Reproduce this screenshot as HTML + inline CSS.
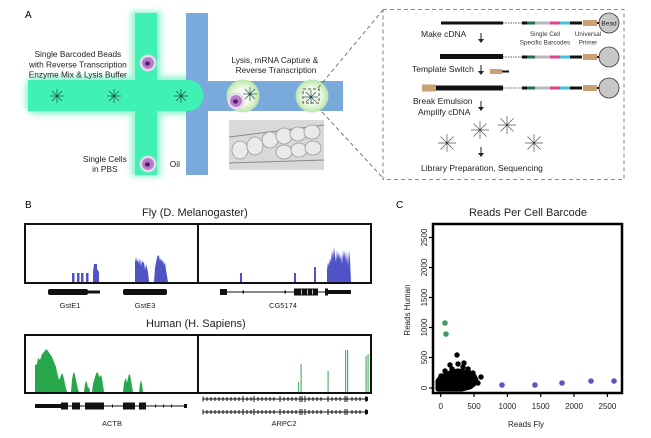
<!DOCTYPE html>
<html><head><meta charset="utf-8"><style>
html,body{margin:0;padding:0;background:#fff;}
svg{display:block;font-family:"Liberation Sans",sans-serif;}
</style></head><body>
<svg width="651" height="438" viewBox="0 0 651 438" xmlns="http://www.w3.org/2000/svg">
<defs>
<filter id="blur3" x="-50%" y="-50%" width="200%" height="200%"><feGaussianBlur stdDeviation="3"/></filter>
<filter id="blur1" x="-50%" y="-50%" width="200%" height="200%"><feGaussianBlur stdDeviation="1.2"/></filter>
<radialGradient id="drop" cx="50%" cy="50%" r="50%"><stop offset="0" stop-color="#ffffff"/><stop offset="0.55" stop-color="#eef8e4"/><stop offset="1" stop-color="#b8e6a8"/></radialGradient>
<radialGradient id="cellh" cx="50%" cy="50%" r="50%"><stop offset="0.6" stop-color="#f4eef8"/><stop offset="1" stop-color="#d9d2e6"/></radialGradient>
<g id="star" stroke="#1d4f4f" stroke-width="0.7">
<line x1="-7" y1="0" x2="7" y2="0"/><line x1="0" y1="-7" x2="0" y2="7"/>
<line x1="-5" y1="-5" x2="5" y2="5"/><line x1="-5" y1="5" x2="5" y2="-5"/>
<circle r="1.3" fill="#1d4f4f" stroke="none"/>
</g>
<g id="star2" stroke="#555" stroke-width="0.7">
<line x1="-9" y1="0" x2="9" y2="0"/><line x1="0" y1="-9" x2="0" y2="9"/>
<line x1="-6.5" y1="-6.5" x2="6.5" y2="6.5"/><line x1="-6.5" y1="6.5" x2="6.5" y2="-6.5"/>
<circle r="1.2" fill="#444" stroke="none"/>
</g>
<g id="cell">
<circle r="8.5" fill="url(#cellh)"/>
<circle r="6" fill="#b77cc8"/>
<ellipse cx="-0.5" cy="0.5" rx="2.6" ry="2.2" fill="#5b1d6e"/>
</g>
</defs>

<!-- ============ PANEL A ============ -->
<text x="25" y="18" font-size="10">A</text>

<!-- glows -->
<rect x="131" y="11" width="30" height="166" fill="#9af5d2" filter="url(#blur3)"/>
<rect x="25" y="76" width="180" height="39" rx="12" fill="#9af5d2" filter="url(#blur3)"/>
<!-- blue channels -->
<rect x="186" y="13" width="22" height="162" fill="#7aa9dc"/>
<rect x="186" y="81" width="157" height="30" fill="#7aa9dc"/>
<!-- green channels -->
<rect x="135" y="13" width="22" height="162" fill="#3ff2b3"/>
<path d="M28,80 H188 A15.5,15.5 0 0 1 188,111 H28 Z" fill="#3ff2b3"/>

<use href="#star" x="57" y="96"/>
<use href="#star" x="114" y="96"/>
<use href="#star" x="181" y="96"/>
<use href="#cell" x="148" y="63"/>
<use href="#cell" x="148" y="164"/>

<!-- droplets -->
<circle cx="243" cy="96" r="16.5" fill="url(#drop)"/>
<use href="#cell" x="236" y="101"/>
<use href="#star" x="250" y="94"/>
<circle cx="312" cy="96" r="16.5" fill="url(#drop)"/>
<use href="#star" x="311" y="97"/>
<rect x="303" y="89" width="16" height="14" fill="none" stroke="#222" stroke-width="0.8" stroke-dasharray="3,2"/>

<!-- micrograph -->
<rect x="229" y="120" width="95" height="50" fill="#d9d9d9"/>
<path d="M229,137 L324,125" stroke="#8a8a8a" stroke-width="1" fill="none"/>
<path d="M229,163 L324,160" stroke="#8a8a8a" stroke-width="1" fill="none"/>
<g fill="#eaeaea" stroke="#9a9a9a" stroke-width="0.8">
<ellipse cx="240" cy="150" rx="8" ry="9"/>
<ellipse cx="255" cy="146" rx="8" ry="9"/>
<ellipse cx="270" cy="140" rx="8" ry="8"/>
<ellipse cx="284" cy="136" rx="8" ry="8"/>
<ellipse cx="298" cy="134" rx="8" ry="7"/>
<ellipse cx="312" cy="132" rx="8" ry="7"/>
<ellipse cx="284" cy="152" rx="8" ry="7"/>
<ellipse cx="299" cy="150" rx="8" ry="7"/>
<ellipse cx="313" cy="148" rx="8" ry="7"/>
</g>

<text font-size="8.3" text-anchor="middle" fill="#222">
<tspan x="79" y="57">Single Barcoded Beads</tspan>
<tspan x="79" y="67.5">with Reverse Transcription</tspan>
<tspan x="79" y="77.5">Enzyme Mix &amp; Lysis Buffer</tspan>
<tspan x="106" y="162">Single Cells</tspan>
<tspan x="106" y="172">in PBS</tspan>
<tspan x="176" y="167">Oil</tspan>
<tspan x="276" y="63">Lysis, mRNA Capture &amp;</tspan>
<tspan x="276" y="73">Reverse Transcription</tspan>
</text>

<!-- dashed callout -->
<line x1="318" y1="88" x2="383" y2="10" stroke="#555" stroke-width="0.8" stroke-dasharray="4,3"/>
<line x1="322" y1="112" x2="383" y2="178" stroke="#555" stroke-width="0.8" stroke-dasharray="4,3"/>
<rect x="383" y="9.5" width="241" height="170" fill="#fff" stroke="#666" stroke-width="0.8" stroke-dasharray="4,3"/>

<!-- DNA rows -->
<g>
<!-- row 1 -->
<rect x="441" y="21.5" width="62" height="3" fill="#111"/>
<line x1="503" y1="23" x2="522" y2="23" stroke="#999" stroke-width="1.5" stroke-dasharray="1.5,1"/>
<rect x="522" y="21.5" width="5" height="3" fill="#111"/>
<rect x="527" y="21.5" width="8" height="3" fill="#1f6e5e"/>
<rect x="535" y="21.5" width="15" height="3" fill="#b8b8b8"/>
<rect x="550" y="21.5" width="10" height="3" fill="#e0418b"/>
<rect x="560" y="21.5" width="10" height="3" fill="#3fc3d8"/>
<rect x="570" y="21.5" width="12" height="3" fill="#111"/>
<rect x="583" y="20" width="14" height="6" fill="#c9a070"/>
<rect x="597" y="22" width="3" height="2" fill="#111"/>
<circle cx="609" cy="23" r="10" fill="#c8c8c8" stroke="#333" stroke-width="0.8"/>
<text x="609" y="25.5" font-size="6.5" text-anchor="middle" fill="#222">Bead</text>
<!-- row 2 -->
<rect x="440" y="54" width="63" height="5" fill="#111"/>
<line x1="503" y1="57" x2="522" y2="57" stroke="#999" stroke-width="1.5" stroke-dasharray="1.5,1"/>
<rect x="522" y="55.5" width="5" height="3" fill="#111"/>
<rect x="527" y="55.5" width="8" height="3" fill="#1f6e5e"/>
<rect x="535" y="55.5" width="15" height="3" fill="#b8b8b8"/>
<rect x="550" y="55.5" width="10" height="3" fill="#e0418b"/>
<rect x="560" y="55.5" width="10" height="3" fill="#3fc3d8"/>
<rect x="570" y="55.5" width="12" height="3" fill="#111"/>
<rect x="583" y="54" width="14" height="6" fill="#c9a070"/>
<rect x="597" y="56" width="3" height="2" fill="#111"/>
<circle cx="609" cy="57" r="10" fill="#c8c8c8" stroke="#333" stroke-width="0.8"/>
<!-- small piece -->
<rect x="490" y="69" width="12" height="5" fill="#c9a070"/>
<rect x="502" y="70.5" width="7" height="2" fill="#111"/>
<!-- row 3 -->
<rect x="422" y="84.5" width="14" height="7" fill="#c9a070"/>
<rect x="436" y="85.5" width="67" height="5" fill="#111"/>
<line x1="503" y1="88" x2="522" y2="88" stroke="#999" stroke-width="1.5" stroke-dasharray="1.5,1"/>
<rect x="522" y="86.5" width="5" height="3" fill="#111"/>
<rect x="527" y="86.5" width="8" height="3" fill="#1f6e5e"/>
<rect x="535" y="86.5" width="15" height="3" fill="#b8b8b8"/>
<rect x="550" y="86.5" width="10" height="3" fill="#e0418b"/>
<rect x="560" y="86.5" width="10" height="3" fill="#3fc3d8"/>
<rect x="570" y="86.5" width="12" height="3" fill="#111"/>
<rect x="583" y="85" width="14" height="6" fill="#c9a070"/>
<rect x="597" y="87" width="3" height="2" fill="#111"/>
<circle cx="609" cy="88" r="10" fill="#c8c8c8" stroke="#333" stroke-width="0.8"/>
</g>

<!-- arrows -->
<g stroke="#222" stroke-width="1" fill="#222">
<line x1="481" y1="33" x2="481" y2="40"/><path d="M478,39 L484,39 L481,43 Z" stroke="none"/>
<line x1="481" y1="65" x2="481" y2="72"/><path d="M478,71 L484,71 L481,75 Z" stroke="none"/>
<line x1="481" y1="101" x2="481" y2="108"/><path d="M478,107 L484,107 L481,111 Z" stroke="none"/>
<line x1="481" y1="147" x2="481" y2="154"/><path d="M478,153 L484,153 L481,157 Z" stroke="none"/>
</g>
<use href="#star2" x="480" y="130"/>
<use href="#star2" x="507" y="125"/>
<use href="#star2" x="447" y="143"/>
<use href="#star2" x="534" y="143"/>

<g font-size="8.5" fill="#222">
<text x="421" y="37">Make cDNA</text>
<text x="412" y="72">Template Switch</text>
<text x="413" y="104">Break Emulsion</text>
<text x="418" y="115">Amplify cDNA</text>
<text x="421" y="171">Library Preparation, Sequencing</text>
</g>
<g font-size="6.3" fill="#333" text-anchor="middle">
<text x="545" y="36">Single Cell</text>
<text x="545" y="44.5">Specific Barcodes</text>
<text x="588" y="36">Universal</text>
<text x="588" y="44.5">Primer</text>
</g>

<!-- ============ PANEL B ============ -->
<text x="25" y="208" font-size="10">B</text>
<text x="142" y="216" font-size="11" fill="#222">Fly (D.  Melanogaster)</text>

<!-- fly bars -->
<g fill="#5053c6">
<rect x="72" y="273" width="2.5" height="9"/>
<rect x="77" y="273" width="2.5" height="9"/>
<rect x="81" y="273" width="2.5" height="9"/>
<rect x="86" y="273" width="2.5" height="9"/>
<polygon points="93,282 93,272 94,264 97,264 97,269 99,272 99,282"/>
<polygon points="135,282 135,262 136,257 137,262 138,259 139,264 140,258 141,266 142,260 143,263 144,262 145,270 146,264 147,268 148,272 149,282"/>
<polygon points="154,282 155,268 156,262 157,258 158,255 159,256 160,261 161,258 162,262 163,260 164,265 165,262 166,270 167,276 168,282"/>
<rect x="240" y="273" width="2" height="9"/>
<rect x="294" y="273" width="2" height="9"/>
<rect x="314" y="267" width="2" height="15"/>
<polygon points="327,282 327,270 328,262 329,266 330,258 331,262 332,250 333,258 334,247 335,255 336,262 337,250 338,258 339,252 340,260 341,254 342,264 343,250 344,258 345,250 346,262 347,252 348,266 349,250 350,260 351,282"/>
</g>
<rect x="25" y="224" width="346" height="59" fill="none" stroke="#111" stroke-width="2"/>
<line x1="198" y1="224" x2="198" y2="283" stroke="#111" stroke-width="2"/>

<!-- fly gene models -->
<g fill="#111">
<rect x="48" y="289" width="40" height="6" rx="2"/>
<rect x="88" y="290.5" width="12" height="3"/>
<rect x="123" y="289" width="44" height="6" rx="2"/>
<rect x="220" y="289" width="7" height="6"/>
<rect x="227" y="291.5" width="67" height="1"/>
<rect x="242.5" y="290.5" width="1.5" height="3"/>
<rect x="284.5" y="290.5" width="1.5" height="3"/>
<rect x="294" y="288.5" width="24" height="7"/>
<rect x="318" y="291.5" width="9" height="1"/>
<rect x="325" y="288.5" width="3" height="7"/>
<rect x="328" y="290" width="23" height="4"/>
</g>
<g fill="#bbb"><rect x="301" y="289.5" width="1" height="5"/><rect x="307" y="289.5" width="1" height="5"/><rect x="312" y="289.5" width="1" height="5"/></g>
<g font-size="7.5" text-anchor="middle" fill="#222">
<text x="70" y="308">GstE1</text>
<text x="145" y="308">GstE3</text>
<text x="283" y="308">CG5174</text>
</g>

<text x="146" y="327" font-size="11" fill="#222">Human (H. Sapiens)</text>
<!-- human areas -->
<g fill="#27a64c">
<polygon points="35,392 35,365 37,364 38,358 40,360 42,354 44,352 46,349 48,351 50,354 52,357 54,362 56,367 57,372 58,376 59,380 60,378 62,373 63,375 64,379 65,384 66,388 67,392"/>
<polygon points="71,392 72,380 73,374 74,372 75,375 76,380 77,385 78,389 79,392"/>
<polygon points="84,392 85,384 86,381 87,383 88,388 89,387 90,392"/>
<polygon points="92,392 93,384 95,377 96,374 97,372 98,373 99,376 100,377 101,375 102,378 103,385 104,392"/>
<polygon points="123,392 124,383 125,380 126,378 127,383 128,378 129,374 130,375 131,380 132,386 133,392"/>
<polygon points="139,392 140,384 141,380 142,384 143,392"/>
</g>
<g fill="#55b070">
<rect x="298" y="382" width="1" height="10"/>
<rect x="300.5" y="364" width="1.2" height="28"/>
<rect x="327.5" y="371" width="1.2" height="21"/>
<rect x="345" y="350" width="1.2" height="42"/>
<rect x="347" y="350" width="1.2" height="42"/>
<rect x="365.5" y="356" width="1.2" height="36"/>
<rect x="367.5" y="354" width="1.2" height="38"/>
</g>
<rect x="25" y="335" width="346" height="58" fill="none" stroke="#111" stroke-width="2"/>
<line x1="198" y1="335" x2="198" y2="393" stroke="#111" stroke-width="2"/>

<!-- ACTB model -->
<g fill="#111">
<rect x="35" y="404" width="27" height="4"/>
<rect x="61" y="402.5" width="7" height="7"/>
<rect x="68" y="405.5" width="4" height="1"/>
<rect x="72" y="402.5" width="8" height="7"/>
<rect x="80" y="405.5" width="5" height="1"/>
<rect x="85" y="402.5" width="19" height="7"/>
<rect x="104" y="405.5" width="19" height="1"/>
<rect x="123" y="402.5" width="12" height="7"/>
<rect x="135" y="405.5" width="4" height="1"/>
<rect x="139" y="402.5" width="7" height="7"/>
<rect x="146" y="405.5" width="39" height="1"/>
<rect x="184" y="404" width="3" height="4"/>
<rect x="112" y="404.5" width="1" height="3"/><rect x="155" y="404.5" width="1" height="3"/><rect x="163" y="404.5" width="1" height="3"/><rect x="171" y="404.5" width="1" height="3"/>
</g>
<!-- ARPC2 models -->
<g stroke="#111" stroke-width="1">
<line x1="203" y1="399" x2="367" y2="399"/>
<line x1="203" y1="412" x2="367" y2="412"/>
<path d="M207,397 V401 M211,397 V401 M215,397 V401 M219,397 V401 M223,397 V401 M227,397 V401 M231,397 V401 M235,397 V401 M239,397 V401 M243,396 V402 M247,397 V401 M251,397 V401 M254,396 V402 M258,397 V401 M262,397 V401 M266,397 V401 M270,397 V401 M274,397 V401 M280,396 V402 M284,397 V401 M288,397 V401 M292,397 V401 M296,397 V401 M300,396 V402 M302,396 V402 M305,396 V402 M309,397 V401 M313,397 V401 M317,397 V401 M321,397 V401 M328,396 V402 M332,397 V401 M336,397 V401 M340,397 V401 M345,396 V402 M347,396 V402 M352,397 V401 M356,397 V401 M360,397 V401 M366,396 V402"/>
<path d="M207,410 V414 M211,410 V414 M215,410 V414 M219,410 V414 M223,410 V414 M227,410 V414 M231,410 V414 M235,410 V414 M239,410 V414 M243,409 V415 M247,410 V414 M251,410 V414 M254,409 V415 M258,410 V414 M262,410 V414 M266,410 V414 M270,410 V414 M274,410 V414 M280,409 V415 M284,410 V414 M288,410 V414 M292,410 V414 M296,410 V414 M300,409 V415 M302,409 V415 M305,409 V415 M309,410 V414 M313,410 V414 M317,410 V414 M321,410 V414 M328,409 V415 M332,410 V414 M336,410 V414 M340,410 V414 M345,409 V415 M347,409 V415 M352,410 V414 M356,410 V414 M360,410 V414 M366,409 V415"/>
<path d="M203,396.5 V401.5 M203,409.5 V414.5"/>
</g>
<rect x="365" y="397" width="3" height="4" fill="#111"/>
<rect x="365" y="410" width="3" height="4" fill="#111"/>
<g font-size="7.5" text-anchor="middle" fill="#222">
<text x="112" y="426">ACTB</text>
<text x="284" y="426">ARPC2</text>
</g>

<!-- ============ PANEL C ============ -->
<text x="396" y="208" font-size="10">C</text>
<text x="528" y="216" font-size="11" text-anchor="middle" fill="#222">Reads Per Cell Barcode</text>

<!-- cluster -->
<path d="M438,389 L438,381 L441,377 L446,375 L452,372 L458,371 L465,372 L470,373 L474,376 L476,380 L474,384 L470,387 L462,389 Z" fill="#000" stroke="#000" stroke-width="5" stroke-linejoin="round"/>
<g fill="#000">
<circle cx="457" cy="355" r="2.7"/><circle cx="450" cy="365" r="2.7"/><circle cx="458" cy="364" r="2.7"/>
<circle cx="464" cy="363" r="2.7"/><circle cx="473" cy="373" r="2.7"/><circle cx="481" cy="377" r="2.7"/>
<circle cx="478" cy="383" r="2.7"/><circle cx="445" cy="371" r="2.7"/><circle cx="468" cy="369" r="2.7"/>
<circle cx="441" cy="376" r="2.7"/><circle cx="463" cy="367" r="2.7"/><circle cx="452" cy="369" r="2.7"/>
</g>
<g fill="#3f9a62"><circle cx="445" cy="323" r="2.8"/><circle cx="446" cy="334" r="2.8"/></g>
<g fill="#5a56c2">
<circle cx="502" cy="385" r="2.8"/><circle cx="535" cy="385" r="2.8"/><circle cx="562" cy="383" r="2.8"/>
<circle cx="591" cy="381" r="2.8"/><circle cx="614" cy="381" r="2.8"/>
</g>
<rect x="433" y="224" width="189" height="169" fill="none" stroke="#000" stroke-width="2.5"/>
<g stroke="#000" stroke-width="1.2">
<line x1="429" y1="237.5" x2="433" y2="237.5"/><line x1="429" y1="267.5" x2="433" y2="267.5"/>
<line x1="429" y1="297.5" x2="433" y2="297.5"/><line x1="429" y1="327.5" x2="433" y2="327.5"/>
<line x1="429" y1="357.5" x2="433" y2="357.5"/><line x1="429" y1="388" x2="433" y2="388"/>
<line x1="440.7" y1="393" x2="440.7" y2="397"/><line x1="474" y1="393" x2="474" y2="397"/>
<line x1="507.4" y1="393" x2="507.4" y2="397"/><line x1="540.7" y1="393" x2="540.7" y2="397"/>
<line x1="574" y1="393" x2="574" y2="397"/><line x1="607.4" y1="393" x2="607.4" y2="397"/>
</g>
<g font-size="8" text-anchor="middle" fill="#222">
<text transform="translate(427,237.5) rotate(-90)">2500</text>
<text transform="translate(427,267.5) rotate(-90)">2000</text>
<text transform="translate(427,297.5) rotate(-90)">1500</text>
<text transform="translate(427,327.5) rotate(-90)">1000</text>
<text transform="translate(427,357.5) rotate(-90)">500</text>
<text transform="translate(427,388) rotate(-90)">0</text>
<text x="440.7" y="409">0</text>
<text x="474" y="409">500</text>
<text x="507.4" y="409">1000</text>
<text x="540.7" y="409">1500</text>
<text x="574" y="409">2000</text>
<text x="607.4" y="409">2500</text>
<text x="526" y="427">Reads Fly</text>
<text transform="translate(410,310) rotate(-90)">Reads Human</text>
</g>
</svg>
</body></html>
